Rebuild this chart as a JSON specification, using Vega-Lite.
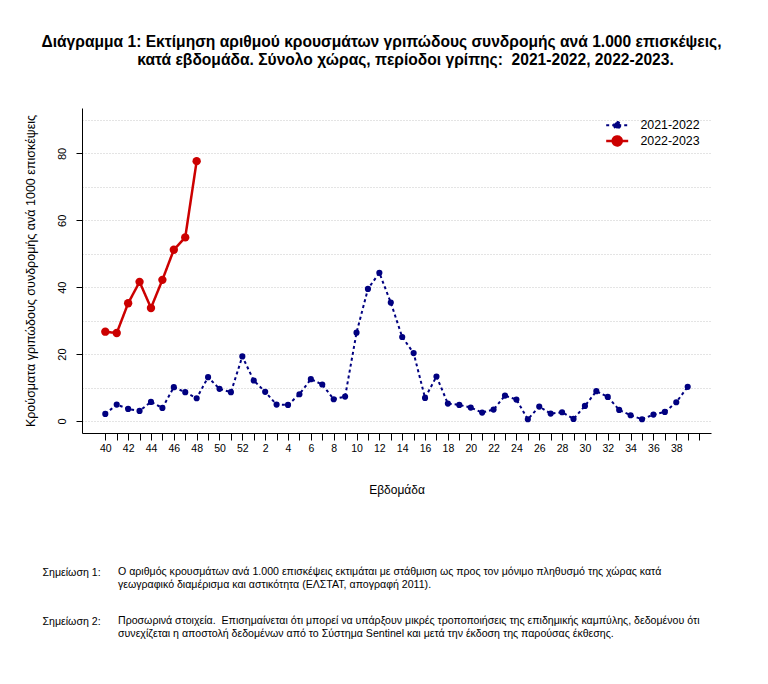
{
  "$schema": "https://vega.github.io/schema/vega-lite/v6.json",
  "background": "white",
  "padding": {"left": 24, "top": 35, "right": 40, "bottom": 40},
  "bounds": "flush",
  "spacing": 134,
  "resolve": {"scale": {"color": "independent"}, "legend": {"color": "independent"}},
  "title": {
    "text": ["Διάγραμμα 1: Εκτίμηση αριθμού κρουσμάτων γριπώδους συνδρομής ανά 1.000 επισκέψεις,", "\u2800\u2800\u2800\u2800κατά εβδομάδα. Σύνολο χώρας, περίοδοι γρίπης: \u00a02021-2022, 2022-2023."],
    "font": "Liberation Sans",
    "fontSize": 15.6,
    "fontWeight": "bold",
    "color": "black",
    "anchor": "middle",
    "lineHeight": 18,
    "offset": 39,
    "dx": 14
  },
  "config": {
    "view": {"stroke": null},
    "font": "Liberation Sans",
    "axis": {"labelFont": "Liberation Sans", "titleFont": "Liberation Sans", "labelColor": "black", "titleColor": "black", "domainColor": "black", "tickColor": "black", "titleFontWeight": "normal"}
  },
  "vconcat": [
    {
      "width": 629,
      "height": 325,
      "data": {"values": [
        {"season": "2021-2022", "order": 0, "week": 40, "value": 2.1},
        {"season": "2021-2022", "order": 1, "week": 41, "value": 4.9},
        {"season": "2021-2022", "order": 2, "week": 42, "value": 3.6},
        {"season": "2021-2022", "order": 3, "week": 43, "value": 3.0},
        {"season": "2021-2022", "order": 4, "week": 44, "value": 5.7},
        {"season": "2021-2022", "order": 5, "week": 45, "value": 3.9},
        {"season": "2021-2022", "order": 6, "week": 46, "value": 10.1},
        {"season": "2021-2022", "order": 7, "week": 47, "value": 8.6},
        {"season": "2021-2022", "order": 8, "week": 48, "value": 6.8},
        {"season": "2021-2022", "order": 9, "week": 49, "value": 13.1},
        {"season": "2021-2022", "order": 10, "week": 50, "value": 9.6},
        {"season": "2021-2022", "order": 11, "week": 51, "value": 8.6},
        {"season": "2021-2022", "order": 12, "week": 52, "value": 19.3},
        {"season": "2021-2022", "order": 13, "week": 1, "value": 12.1},
        {"season": "2021-2022", "order": 14, "week": 2, "value": 8.7},
        {"season": "2021-2022", "order": 15, "week": 3, "value": 4.9},
        {"season": "2021-2022", "order": 16, "week": 4, "value": 4.8},
        {"season": "2021-2022", "order": 17, "week": 5, "value": 8.0},
        {"season": "2021-2022", "order": 18, "week": 6, "value": 12.5},
        {"season": "2021-2022", "order": 19, "week": 7, "value": 10.9},
        {"season": "2021-2022", "order": 20, "week": 8, "value": 6.5},
        {"season": "2021-2022", "order": 21, "week": 9, "value": 7.3},
        {"season": "2021-2022", "order": 22, "week": 10, "value": 26.4},
        {"season": "2021-2022", "order": 23, "week": 11, "value": 39.5},
        {"season": "2021-2022", "order": 24, "week": 12, "value": 44.3},
        {"season": "2021-2022", "order": 25, "week": 13, "value": 35.4},
        {"season": "2021-2022", "order": 26, "week": 14, "value": 25.1},
        {"season": "2021-2022", "order": 27, "week": 15, "value": 20.3},
        {"season": "2021-2022", "order": 28, "week": 16, "value": 6.9},
        {"season": "2021-2022", "order": 29, "week": 17, "value": 13.3},
        {"season": "2021-2022", "order": 30, "week": 18, "value": 5.2},
        {"season": "2021-2022", "order": 31, "week": 19, "value": 4.8},
        {"season": "2021-2022", "order": 32, "week": 20, "value": 4.0},
        {"season": "2021-2022", "order": 33, "week": 21, "value": 2.5},
        {"season": "2021-2022", "order": 34, "week": 22, "value": 3.4},
        {"season": "2021-2022", "order": 35, "week": 23, "value": 7.6},
        {"season": "2021-2022", "order": 36, "week": 24, "value": 6.4},
        {"season": "2021-2022", "order": 37, "week": 25, "value": 0.5},
        {"season": "2021-2022", "order": 38, "week": 26, "value": 4.3},
        {"season": "2021-2022", "order": 39, "week": 27, "value": 2.2},
        {"season": "2021-2022", "order": 40, "week": 28, "value": 2.6},
        {"season": "2021-2022", "order": 41, "week": 29, "value": 0.6},
        {"season": "2021-2022", "order": 42, "week": 30, "value": 4.5},
        {"season": "2021-2022", "order": 43, "week": 31, "value": 8.9},
        {"season": "2021-2022", "order": 44, "week": 32, "value": 7.2},
        {"season": "2021-2022", "order": 45, "week": 33, "value": 3.3},
        {"season": "2021-2022", "order": 46, "week": 34, "value": 1.7},
        {"season": "2021-2022", "order": 47, "week": 35, "value": 0.5},
        {"season": "2021-2022", "order": 48, "week": 36, "value": 1.9},
        {"season": "2021-2022", "order": 49, "week": 37, "value": 2.7},
        {"season": "2021-2022", "order": 50, "week": 38, "value": 5.6},
        {"season": "2021-2022", "order": 51, "week": 39, "value": 10.2},
        {"season": "2022-2023", "order": 0, "week": 40, "value": 26.7},
        {"season": "2022-2023", "order": 1, "week": 41, "value": 26.3},
        {"season": "2022-2023", "order": 2, "week": 42, "value": 35.2},
        {"season": "2022-2023", "order": 3, "week": 43, "value": 41.6},
        {"season": "2022-2023", "order": 4, "week": 44, "value": 33.8},
        {"season": "2022-2023", "order": 5, "week": 45, "value": 42.2},
        {"season": "2022-2023", "order": 6, "week": 46, "value": 51.2},
        {"season": "2022-2023", "order": 7, "week": 47, "value": 54.9},
        {"season": "2022-2023", "order": 8, "week": 48, "value": 77.7}
      ]},
      "encoding": {
        "x": {
          "field": "order", "type": "quantitative",
          "scale": {"domain": [-2.04, 53.04], "nice": false, "zero": false},
          "axis": {
            "values": [0,1,2,3,4,5,6,7,8,9,10,11,12,13,14,15,16,17,18,19,20,21,22,23,24,25,26,27,28,29,30,31,32,33,34,35,36,37,38,39,40,41,42,43,44,45,46,47,48,49,50,51,52],
            "labelExpr": "datum.value % 2 == 0 && datum.value < 52 ? (datum.value <= 12 ? '' + (datum.value + 40) : '' + (datum.value - 12)) : ''",
            "grid": false,
            "tickSize": 7,
            "labelFontSize": 10.5,
            "labelPadding": 3,
            "labelFlush": false,
            "labelOverlap": false,
            "title": "Εβδομάδα",
            "titleFontSize": 12,
            "titlePadding": 31
          }
        },
        "y": {
          "field": "value", "type": "quantitative",
          "scale": {"domain": [-3.6, 93.6], "nice": false, "zero": false},
          "axis": {
            "values": [0,10,20,30,40,50,60,70,80,90],
            "labelExpr": "datum.value % 20 == 0 && datum.value <= 80 ? datum.label : ''",
            "tickOpacity": {"condition": {"test": "datum.value % 20 == 0 && datum.value <= 80", "value": 1}, "value": 0},
            "tickSize": 6,
            "labelAngle": -90,
            "labelAlign": "center",
            "labelBaseline": "bottom",
            "labelPadding": 9,
            "labelFontSize": 11,
            "grid": true,
            "gridColor": "#c8c8c8",
            "gridDash": [1, 2],
            "gridWidth": 1,
            "title": "Κρούσματα γριπώδους συνδρομής ανά 1000 επισκέψεις",
            "titleFontSize": 12.5,
            "titlePadding": 19
          }
        },
        "color": {
          "field": "season", "type": "nominal",
          "scale": {"domain": ["2021-2022", "2022-2023"], "range": ["#000080", "#CC0000"]}
        }
      },
      "layer": [
        {
          "mark": {"type": "line"},
          "encoding": {
            "strokeDash": {"field": "season", "type": "nominal", "scale": {"domain": ["2021-2022", "2022-2023"], "range": [[3, 3], [1, 0]]}, "legend": null},
            "strokeWidth": {"field": "season", "type": "nominal", "scale": {"domain": ["2021-2022", "2022-2023"], "range": [2, 2.5]}, "legend": null},
            "color": {
              "field": "season", "type": "nominal",
              "legend": {
                "title": null,
                "orient": "top-right",
                "offset": 11,
                "padding": 0,
                "symbolSize": 144,
                "labelOffset": 17,
                "rowPadding": -2.3,
                "labelFont": "Liberation Sans",
                "labelFontSize": 12.4,
                "labelColor": "black",
                "encode": {
                  "symbols": {
                    "update": {
                      "shape": {"signal": "datum.value === '2022-2023' ? 'M-1.833,0L1.833,0M-0.75,0A0.75,0.75 0 1,0 0.75,0A0.75,0.75 0 1,0 -0.75,0Z' : 'M-1.833,0L1.833,0M-0.53,0A0.53,0.53 0 1,0 0.53,0A0.53,0.53 0 1,0 -0.53,0Z'"},
                      "fill": {"signal": "datum.value === '2022-2023' ? '#CC0000' : '#000080'"},
                      "stroke": {"signal": "datum.value === '2022-2023' ? '#CC0000' : '#000080'"},
                      "strokeDash": {"signal": "datum.value === '2022-2023' ? [1, 0] : [3, 3]"},
                      "strokeWidth": {"signal": "datum.value === '2022-2023' ? 2.5 : 2"},
                      "fillOpacity": {"value": 1},
                      "opacity": {"value": 1}
                    }
                  }
                }
              }
            }
          }
        },
        {
          "mark": {"type": "point", "filled": true, "opacity": 1},
          "encoding": {
            "size": {"field": "season", "type": "nominal", "scale": {"domain": ["2021-2022", "2022-2023"], "range": [38, 70]}, "legend": null},
            "color": {"field": "season", "type": "nominal", "legend": null}
          }
        }
      ]
    },
    {
      "width": 72,
      "height": 49,
      "data": {"values": [
        {"label": "Σημείωση 1:", "text": "Ο αριθμός κρουσμάτων ανά 1.000 επισκέψεις εκτιμάται με στάθμιση ως προς τον μόνιμο πληθυσμό της χώρας κατά\nγεωγραφικό διαμέρισμα και αστικότητα (ΕΛΣΤΑΤ, απογραφή 2011)."},
        {"label": "Σημείωση 2:", "text": "Προσωρινά στοιχεία. \u00a0Επισημαίνεται ότι μπορεί να υπάρξουν μικρές τροποποιήσεις της επιδημικής καμπύλης, δεδομένου ότι\nσυνεχίζεται η αποστολή δεδομένων από το Σύστημα Sentinel και μετά την έκδοση της παρούσας έκθεσης."}
      ]},
      "mark": {"type": "text", "align": "left", "baseline": "top", "lineBreak": "\n", "lineHeight": 13, "font": "Liberation Sans", "fontSize": 10.6, "color": "black"},
      "encoding": {
        "y": {
          "field": "label", "type": "nominal",
          "scale": {"type": "point", "padding": 0},
          "axis": {"domain": false, "ticks": false, "tickSize": 0, "grid": false, "title": null, "labelAlign": "left", "labelBaseline": "top", "labelPadding": 40, "labelFontSize": 10.6, "labelFont": "Liberation Sans", "labelColor": "black"}
        },
        "text": {"field": "text", "type": "nominal"}
      }
    }
  ]
}
